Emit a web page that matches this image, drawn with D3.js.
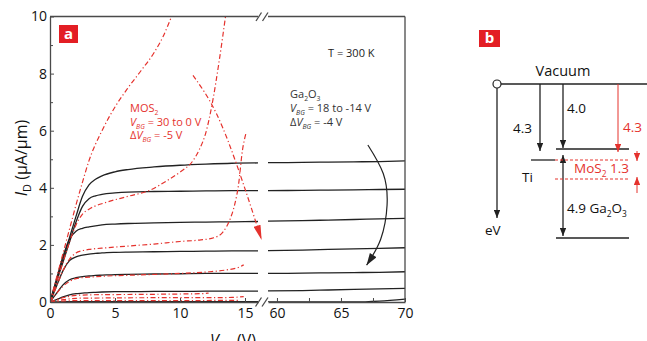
<!DOCTYPE html>
<html lang="en">
<head>
<meta charset="UTF-8">
<title>Ga2O3 / MoS2 output curves</title>
<script src="https://cdn.jsdelivr.net/npm/d3@7"></script>
<style>
    body { margin: 0; background: #fff; }
    svg { display: block; font-family: "Open Sans", "Noto Sans", sans-serif; }
</style>
</head>
<body>
<svg id="chart" width="647" height="341"></svg>
<script>
// ---------------- data ----------------
// Ga2O3 output curves, V_BG = 18 ... -14 V (top to bottom)
var vdsLeft  = [0, 0.5, 1, 1.5, 2, 2.5, 3, 3.5, 4, 5, 6, 8, 10, 12, 14, 16];
var vdsRight = [59.3, 62, 64, 66, 68, 70];
var gaLeft = [
    [0, 0.75, 1.5, 2.25, 3.0, 3.7, 4.1, 4.3, 4.42, 4.56, 4.64, 4.73, 4.79, 4.83, 4.86, 4.87],
    [0, 0.7, 1.4, 2.1, 2.8, 3.35, 3.62, 3.72, 3.77, 3.82, 3.85, 3.87, 3.88, 3.89, 3.9, 3.9],
    [0, 0.8, 1.6, 2.2, 2.48, 2.58, 2.63, 2.67, 2.7, 2.73, 2.75, 2.77, 2.79, 2.8, 2.81, 2.82],
    [0, 0.55, 1.1, 1.45, 1.58, 1.64, 1.68, 1.7, 1.72, 1.74, 1.75, 1.76, 1.77, 1.78, 1.79, 1.79],
    [0, 0.3, 0.6, 0.78, 0.85, 0.89, 0.91, 0.93, 0.94, 0.96, 0.97, 0.98, 0.99, 1.0, 1.0, 1.0],
    [0, 0.08, 0.18, 0.25, 0.29, 0.31, 0.33, 0.34, 0.35, 0.36, 0.36, 0.37, 0.37, 0.38, 0.38, 0.38],
    [0, 0.005, 0.01, 0.01, 0.01, 0.01, 0.01, 0.01, 0.01, 0.01, 0.01, 0.01, 0.01, 0.01, 0.01, 0.01]
];
var gaRight = [
    [4.88, 4.89, 4.9, 4.91, 4.92, 4.94],
    [3.9, 3.91, 3.92, 3.93, 3.94, 3.95],
    [2.83, 2.85, 2.87, 2.89, 2.91, 2.93],
    [1.8, 1.82, 1.84, 1.86, 1.88, 1.9],
    [1.0, 1.01, 1.02, 1.03, 1.04, 1.06],
    [0.39, 0.4, 0.42, 0.44, 0.46, 0.48],
    [0.0, 0.0, 0.0, 0.0, 0.03, 0.1]
];

// MoS2 output curves, V_BG = 30 ... 0 V, [V_DS, I_D]
var mos30 = [[0,0],[0.5,0.85],[1,1.7],[1.5,2.55],[2,3.4],[2.5,4.2],[3,4.95],[4,6.0],[5,6.83],[6,7.5],[7,8.1],[8,8.73],[8.7,9.3],[9.35,10]];
var mos25 = [[0,0],[0.5,0.7],[1,1.4],[1.5,2.1],[2,2.7],[2.5,3.08],[3,3.25],[4.4,3.5],[6,3.7],[7.7,3.92],[9,4.25],[10,4.55],[11,4.95],[11.5,5.35],[12,5.95],[12.5,7.0],[13,8.4],[13.5,10]];
var mos20 = [[0,0],[0.5,0.55],[1,1.1],[1.5,1.5],[2,1.72],[2.5,1.8],[3,1.84],[4.4,1.9],[6,1.96],[8,2.03],[10,2.12],[11.5,2.17],[12.6,2.25],[13.3,2.45],[13.85,2.9],[14.2,3.4],[14.5,4.1],[14.8,5.3],[15.1,5.95]];
var mos15 = [[0,0],[0.5,0.3],[1,0.55],[1.5,0.72],[2,0.82],[3,0.87],[4.4,0.91],[7,0.95],[10,1.0],[12,1.05],[13.5,1.12],[14.6,1.23],[14.9,1.3]];
var mos10 = [[0,0],[0.5,0.08],[1,0.15],[1.5,0.2],[2,0.23],[3,0.25],[5,0.26],[8,0.27],[10,0.28],[11.5,0.29],[12.2,0.31]];
var mos5  = [[0,0],[0.5,0.04],[1,0.08],[1.5,0.11],[2,0.13],[4,0.14],[8,0.15],[12,0.15],[14,0.16],[14.9,0.19]];
var mos0  = [[0,0],[1,0.03],[2,0.05],[6,0.05],[10,0.05],[14.5,0.06]];
var mosCurves = [mos30, mos25, mos20, mos15, mos10, mos5, mos0];

// annotation arrows
var mosArrow = [[11.0, 7.94], [12.8, 6.6], [14.6, 4.5], [16.28, 2.17]];
var gaArrow  = [[67.1, 5.5], [68.3, 4.5], [68.6, 3.4], [68.1, 2.2], [67.0, 1.29]];

// axis ticks
var yTicks = [0, 1, 2, 3, 4, 5, 6, 7, 8, 9, 10];
var xTicksLeft = [0, 5, 10, 15];
var xTicksRight = [60, 62.5, 65, 67.5, 70];

// band diagram (eV below vacuum)
var tiWork = 4.3, gaAffinity = 4.0, gaGap = 4.9, mosAffinity = 4.3, mosGap = 1.3;

// ---------------- drawing ----------------
var red = "#e5322d", ink = "#222", frame = "#4a4a4a";
var svg = d3.select("#chart");

var xL = d3.scaleLinear().domain([0, 16]).range([50, 258]);
var xR = d3.scaleLinear().domain([59.3, 70]).range([268, 405]);
var y = d3.scaleLinear().domain([0, 10]).range([302, 16.5]);

var defs = svg.append("defs");
defs.append("clipPath").attr("id", "clipL").append("rect")
    .attr("x", xL(0)).attr("y", y(10)).attr("width", xL(16) - xL(0)).attr("height", y(0) - y(10));
defs.append("clipPath").attr("id", "clipR").append("rect")
    .attr("x", xR(59.3)).attr("y", y(10)).attr("width", xR(70) - xR(59.3)).attr("height", y(0) - y(10));

function marker(id, len, half, color) {
    defs.append("marker")
        .attr("id", id)
        .attr("viewBox", (-len - 1) + " " + (-half) + " " + (len + 2) + " " + (2 * half))
        .attr("markerUnits", "userSpaceOnUse")
        .attr("markerWidth", len + 2).attr("markerHeight", 2 * half)
        .attr("refX", 0).attr("refY", 0)
        .attr("orient", "auto-start-reverse")
        .append("path")
        .attr("d", "M0,0L" + (-len) + "," + (-half) + "L" + (-len) + "," + half + "Z")
        .attr("fill", color);
}
marker("redHead", 15, 3.6, red);
marker("blkHead", 12, 4, ink);
marker("bHead", 8, 3.2, ink);
marker("bHeadRed", 8, 3.2, red);

// curves
var lineL = d3.line().x(function(d) { return xL(d[0]); }).y(function(d) { return y(d[1]); }).curve(d3.curveMonotoneX);
var lineR = d3.line().x(function(d) { return xR(d[0]); }).y(function(d) { return y(d[1]); }).curve(d3.curveMonotoneX);

var gL = svg.append("g").attr("clip-path", "url(#clipL)");
gaLeft.forEach(function(c) {
    gL.append("path").attr("d", lineL(vdsLeft.map(function(v, i) { return [v, c[i]]; })))
        .attr("fill", "none").attr("stroke", ink).attr("stroke-width", 1.3);
});
mosCurves.forEach(function(c) {
    gL.append("path").attr("d", lineL(c))
        .attr("fill", "none").attr("stroke", red).attr("stroke-width", 1.2)
        .attr("stroke-dasharray", "5,2.5,1.2,2.5");
});
var gR = svg.append("g").attr("clip-path", "url(#clipR)");
gaRight.forEach(function(c) {
    gR.append("path").attr("d", lineR(vdsRight.map(function(v, i) { return [v, c[i]]; })))
        .attr("fill", "none").attr("stroke", ink).attr("stroke-width", 1.3);
});

// frame
function seg(x1, y1, x2, y2) {
    svg.append("line").attr("x1", x1).attr("y1", y1).attr("x2", x2).attr("y2", y2)
        .attr("stroke", frame).attr("stroke-width", 1.3);
}
seg(xL(0), y(10), xL(16), y(10));
seg(xR(59.3), y(10), xR(70), y(10));
seg(xR(70), y(10), xR(70), y(0));
// break marks
[258.5, 265].forEach(function(bx) {
    seg(bx - 3, y(0) + 4.5, bx + 3, y(0) - 4.5);
    seg(bx - 2.5, y(10) + 4.5, bx + 3, y(10) - 4);
});

// axes
var fontTick = 14;
var axL = svg.append("g").attr("transform", "translate(0," + y(0) + ")")
    .call(d3.axisBottom(xL).tickValues(xTicksLeft).tickSize(-4).tickSizeOuter(0).tickPadding(6));
var axR = svg.append("g").attr("transform", "translate(0," + y(0) + ")")
    .call(d3.axisBottom(xR).tickValues(xTicksRight).tickSize(-4).tickSizeOuter(0).tickPadding(6)
        .tickFormat(function(d) { return d % 5 === 0 ? d : ""; }));
var axY = svg.append("g").attr("transform", "translate(" + xL(0) + ",0)")
    .call(d3.axisLeft(y).tickValues(yTicks).tickSize(-4).tickSizeOuter(0).tickPadding(3)
        .tickFormat(function(d) { return d % 2 === 0 ? d : ""; }));
[axL, axR, axY].forEach(function(a) {
    a.select(".domain").attr("stroke", frame).attr("stroke-width", 1.3);
    a.selectAll(".tick line").attr("stroke", frame).attr("stroke-width", 1);
    a.selectAll(".tick text").attr("fill", "#111").style("font-size", fontTick + "px")
        .style("font-family", '"Open Sans", sans-serif');
});
axY.selectAll(".tick line").attr("x2", function(d) { return d % 2 === 0 ? 4 : 3; });

// axis titles
var yt = svg.append("text").attr("transform", "translate(27,158) rotate(-90)")
    .attr("text-anchor", "middle").style("font-size", "16px").attr("fill", "#111");
yt.append("tspan").style("font-style", "italic").text("I");
yt.append("tspan").attr("dy", 4).style("font-size", "11px").text("D");
yt.append("tspan").attr("dy", -4).text(" (\u03bcA/\u03bcm)");

var xt = svg.append("text").attr("x", 210).attr("y", 346).style("font-size", "16px").attr("fill", "#111");
xt.append("tspan").style("font-style", "italic").text("V");
xt.append("tspan").attr("dy", 4).style("font-size", "11px").text("DS");
xt.append("tspan").attr("dy", -4).text(" (V)");

// annotations
var annL = d3.line().x(function(d) { return xL(d[0]); }).y(function(d) { return y(d[1]); }).curve(d3.curveNatural);
svg.append("path").attr("d", annL(mosArrow)).attr("fill", "none")
    .attr("stroke", red).attr("stroke-width", 1.2).attr("stroke-dasharray", "5,2.5,1.2,2.5")
    .attr("marker-end", "url(#redHead)");
var annR = d3.line().x(function(d) { return xR(d[0]); }).y(function(d) { return y(d[1]); }).curve(d3.curveNatural);
svg.append("path").attr("d", annR(gaArrow)).attr("fill", "none")
    .attr("stroke", ink).attr("stroke-width", 1.2).attr("marker-end", "url(#blkHead)");

// rich text helper: parts = [text, style] where style: i italic, s subscript
function rich(x, yy, parts, size, color) {
    var t = svg.append("text").attr("x", x).attr("y", yy).style("font-size", size + "px").attr("fill", color);
    var low = false;
    parts.forEach(function(p) {
        var ts = t.append("tspan").text(p[0]);
        var sub = p[1] && p[1].indexOf("s") >= 0;
        if (p[1] && p[1].indexOf("i") >= 0) ts.style("font-style", "italic");
        if (sub && !low) { ts.attr("dy", size * 0.3); low = true; }
        if (!sub && low) { ts.attr("dy", -size * 0.3); low = false; }
        if (sub) ts.style("font-size", (size * 0.62) + "px");
    });
    return t;
}
var fa = 11;
rich(130, 112, [["MOS"], ["2", "s"]], fa, red);
rich(130, 126, [["V", "i"], ["BG", "is"], [" = 30 to 0 V"]], fa, red);
rich(130, 139, [["\u0394"], ["V", "i"], ["BG", "is"], [" = -5 V"]], fa, red);
rich(290, 98, [["Ga"], ["2", "s"], ["O"], ["3", "s"]], fa, "#333");
rich(290, 112, [["V", "i"], ["BG", "is"], [" = 18 to -14 V"]], fa, "#333");
rich(290, 126, [["\u0394"], ["V", "i"], ["BG", "is"], [" = -4 V"]], fa, "#333");
rich(328, 57, [["T = 300 K"]], fa, "#222");

// panel labels
function panelLabel(x, yy, w, h, s) {
    svg.append("rect").attr("x", x).attr("y", yy).attr("width", w).attr("height", h).attr("fill", "#e31e24");
    svg.append("text").attr("x", x + w / 2).attr("y", yy + h - 4).attr("text-anchor", "middle")
        .style("font-size", "15px").style("font-weight", "bold").attr("fill", "#fff").text(s);
}
panelLabel(59, 25, 19, 18, "a");
panelLabel(479, 30, 21, 17, "b");

// ---------------- panel b: band diagram ----------------
var e = d3.scaleLinear()
    .domain([0, gaAffinity, tiWork, mosAffinity + mosGap, gaAffinity + gaGap])
    .range([84, 149, 160, 179, 238]);

function bline(x1, y1, x2, y2, color, opts) {
    var l = svg.append("line").attr("x1", x1).attr("y1", y1).attr("x2", x2).attr("y2", y2)
        .attr("stroke", color || ink).attr("stroke-width", opts && opts.w || 1.3);
    if (opts && opts.dash) l.attr("stroke-dasharray", opts.dash);
    if (opts && opts.head) l.attr("marker-end", "url(#" + opts.head + ")");
    if (opts && opts.tail) l.attr("marker-start", "url(#" + opts.tail + ")");
    return l;
}
// vacuum level and eV axis
bline(501, e(0), 647, e(0));
svg.append("circle").attr("cx", 497).attr("cy", e(0)).attr("r", 4)
    .attr("fill", "#fff").attr("stroke", ink).attr("stroke-width", 1.2);
bline(497, e(0) + 4, 497, 218, ink, { head: "bHead" });
// Ti
bline(540, e(0), 540, e(tiWork) - 9, ink, { head: "bHead" });
bline(531, e(tiWork), 555, e(tiWork));
// Ga2O3
bline(563, e(0), 563, e(gaAffinity) - 1, ink, { head: "bHead" });
bline(556, e(gaAffinity), 629, e(gaAffinity));
bline(556, e(gaAffinity + gaGap), 629, e(gaAffinity + gaGap));
bline(563, e(gaAffinity) + 6, 563, e(gaAffinity + gaGap) - 2, ink, { head: "bHead", tail: "bHead" });
// MoS2
bline(618, e(0), 618, e(gaAffinity) + 3, red, { head: "bHeadRed", w: 1 });
bline(555, e(mosAffinity), 630, e(mosAffinity), red, { dash: "3,2", w: 1 });
bline(555, e(mosAffinity + mosGap), 630, e(mosAffinity + mosGap), red, { dash: "3,2", w: 1 });
bline(637, e(mosAffinity) - 9, 637, e(mosAffinity) + 1, red, { head: "bHeadRed", w: 1 });
bline(637, e(mosAffinity + mosGap) + 14, 637, e(mosAffinity + mosGap) - 2, red, { head: "bHeadRed", w: 1 });

var fb = 13.5;
rich(563, 76, [["Vacuum"]], 14.5, "#111").attr("text-anchor", "middle");
rich(513, 133, [[String(tiWork)]], fb, "#111");
rich(567, 113, [[gaAffinity.toFixed(1)]], fb, "#111");
rich(522, 182, [["Ti"]], fb, "#111");
rich(485, 235, [["eV"]], fb, "#111");
rich(567, 213, [[String(gaGap) + "  Ga"], ["2", "s"], ["O"], ["3", "s"]], fb, "#111");
rich(623, 132, [[String(mosAffinity)]], fb, red);
rich(574, 173, [["MoS"], ["2", "s"], [" " + mosGap]], fb, red);
</script>
</body>
</html>
